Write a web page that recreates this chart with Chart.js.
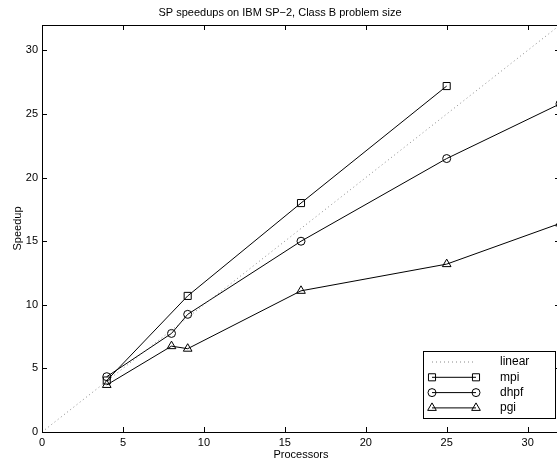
<!DOCTYPE html>
<html>
<head>
<meta charset="utf-8">
<script src="https://cdn.jsdelivr.net/npm/chart.js@4.4.1/dist/chart.umd.min.js"></script>
<style>
  html, body { margin: 0; padding: 0; overflow: hidden; background: #fff; }
  #wrap { width: 601px; height: 465px; }
</style>
</head>
<body>
<div id="wrap"><canvas id="speedup-Chart" width="601" height="465"></canvas></div>
<script>
// values
var linearX = [0, 32];
var linearY = [0, 32];
var mpiProcs = [4, 9, 16, 25];
var mpiSpeedup = [4.05, 10.7, 18.0, 27.2];
var dhpfProcs = [4, 8, 9, 16, 25, 32];
var dhpfSpeedup = [4.35, 7.75, 9.25, 15.0, 21.5, 25.8];
var pgiProcs = [4, 8, 9, 16, 25, 32];
var pgiSpeedup = [3.7, 6.75, 6.55, 11.1, 13.2, 16.4];
var tickValues = [0, 5, 10, 15, 20, 25, 30];

function pts(xs, ys) {
    var out = [];
    for (var i = 0; i < xs.length; i++) {
        out.push({x: xs[i], y: ys[i]});
    }
    return out;
}

var font = 'Arial, "Liberation Sans", Helvetica, sans-serif';
Chart.defaults.font.family = font;
Chart.defaults.font.size = 11;
Chart.defaults.color = '#000';

// box round the plot, inward ticks on all four sides
var frame = {
    id: 'frame',
    afterDraw: function (chart) {
        var ctx = chart.ctx, a = chart.chartArea;
        var xs = chart.scales.x, ys = chart.scales.y;
        ctx.save();
        ctx.strokeStyle = '#000';
        ctx.lineWidth = 1;
        ctx.strokeRect(Math.round(a.left) + 0.5, Math.round(a.top) + 0.5,
            Math.round(a.right - a.left), Math.round(a.bottom - a.top));
        ctx.beginPath();
        tickValues.forEach(function (v) {
            var px = Math.round(xs.getPixelForValue(v)) + 0.5;
            ctx.moveTo(px, a.bottom); ctx.lineTo(px, a.bottom - 5);
            ctx.moveTo(px, a.top); ctx.lineTo(px, a.top + 5);
            var py = Math.round(ys.getPixelForValue(v)) + 0.5;
            ctx.moveTo(a.left, py); ctx.lineTo(a.left + 5, py);
            ctx.moveTo(a.right, py); ctx.lineTo(a.right - 5, py);
        });
        ctx.stroke();
        ctx.restore();
    }
};

// legend box in lower right corner
var boxLegend = {
    id: 'boxLegend',
    afterDraw: function (chart) {
        var ctx = chart.ctx;
        var bx = 423.5, by = 351.5, bw = 132, bh = 67;
        ctx.save();
        ctx.fillStyle = '#fff';
        ctx.fillRect(bx, by, bw, bh);
        ctx.strokeStyle = '#000';
        ctx.lineWidth = 1;
        ctx.strokeRect(bx, by, bw, bh);
        ctx.font = '12px ' + font;
        ctx.textBaseline = 'middle';
        chart.data.datasets.forEach(function (ds, i) {
            var y = 362 + i * 15.3;
            ctx.save();
            ctx.strokeStyle = ds.borderColor;
            ctx.lineWidth = 1;
            ctx.setLineDash(ds.borderDash || []);
            ctx.beginPath();
            ctx.moveTo(432, y); ctx.lineTo(476, y);
            ctx.stroke();
            ctx.restore();
            if (ds.pointRadius > 0) {
                ctx.strokeStyle = '#000';
                ctx.fillStyle = 'rgba(0,0,0,0)';
                var o = {pointStyle: ds.pointStyle, radius: ds.pointRadius, borderWidth: 1, rotation: 0};
                Chart.helpers.drawPoint(ctx, o, 432, y);
                Chart.helpers.drawPoint(ctx, o, 476, y);
            }
            ctx.fillStyle = '#000';
            ctx.fillText(ds.label, 500, y);
        });
        ctx.restore();
    }
};

var ctx = document.getElementById('speedup-Chart');
var chart = new Chart(ctx, {
    type: 'scatter',
    data: {
        datasets: [{
            label: 'linear',
            data: pts(linearX, linearY),
            showLine: true,
            borderColor: '#888',
            borderDash: [1, 3],
            borderWidth: 1,
            pointRadius: 0
        }, {
            label: 'mpi',
            data: pts(mpiProcs, mpiSpeedup),
            showLine: true,
            borderColor: '#000',
            borderWidth: 1,
            pointStyle: 'rect',
            pointRadius: 5,
            pointBackgroundColor: 'rgba(0,0,0,0)',
            pointBorderColor: '#000'
        }, {
            label: 'dhpf',
            data: pts(dhpfProcs, dhpfSpeedup),
            showLine: true,
            borderColor: '#000',
            borderWidth: 1,
            pointStyle: 'circle',
            pointRadius: 4,
            pointBackgroundColor: 'rgba(0,0,0,0)',
            pointBorderColor: '#000'
        }, {
            label: 'pgi',
            data: pts(pgiProcs, pgiSpeedup),
            showLine: true,
            borderColor: '#000',
            borderWidth: 1,
            pointStyle: 'triangle',
            pointRadius: 5,
            pointBackgroundColor: 'rgba(0,0,0,0)',
            pointBorderColor: '#000'
        }]
    },
    options: {
        responsive: false,
        animation: false,
        layout: { padding: { left: 0, right: 41, top: 0, bottom: 0 } },
        plugins: {
            legend: { display: false },
            tooltip: { enabled: false },
            title: {
                display: true,
                text: 'SP speedups on IBM SP\u22122, Class B problem size',
                font: { size: 11, weight: 'normal' },
                color: '#000',
                padding: { top: 6, bottom: 5.8 }
            }
        },
        scales: {
            x: {
                type: 'linear',
                min: 0,
                max: 32,
                afterFit: function (s) { s.height = 33; },
                afterBuildTicks: function (s) {
                    s.ticks = tickValues.map(function (v) { return {value: v}; });
                },
                grid: { display: false, drawTicks: false },
                border: { display: false },
                ticks: { padding: 4, maxRotation: 0, autoSkip: false },
                title: {
                    display: true,
                    text: 'Processors',
                    font: { size: 11 },
                    padding: { top: 0, bottom: 3 }
                }
            },
            y: {
                type: 'linear',
                min: 0,
                max: 32,
                afterFit: function (s) { s.width = 42; },
                afterBuildTicks: function (s) {
                    s.ticks = tickValues.map(function (v) { return {value: v}; });
                },
                grid: { display: false, drawTicks: false },
                border: { display: false },
                ticks: { padding: 4, autoSkip: false },
                title: {
                    display: true,
                    text: 'Speedup',
                    font: { size: 11 },
                    padding: { top: 11, bottom: 0 }
                }
            }
        }
    },
    plugins: [frame, boxLegend]
});
</script>
</body>
</html>
